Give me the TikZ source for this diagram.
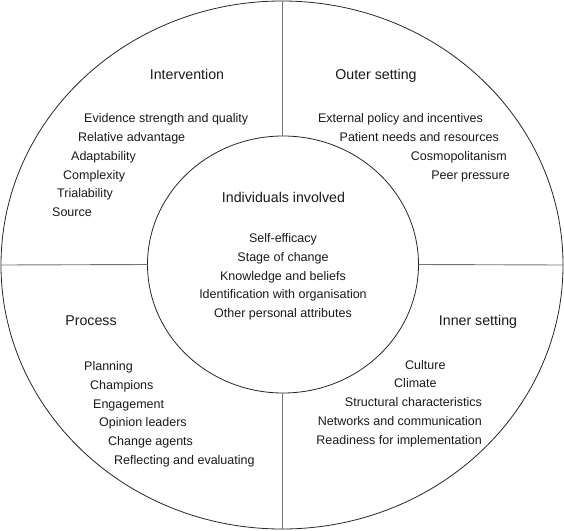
\documentclass[tikz,border=0pt]{standalone}
\usepackage{fontspec}
\setmainfont{Liberation Sans}
\usetikzlibrary{shapes.geometric}
\begin{document}
\begin{tikzpicture}[x=1pt,y=-1pt,
  ring/.style={ellipse,draw=black!85,line width=0.8pt,inner sep=0pt,outer sep=0pt},
  divider/.style={draw=black!55,line width=0.9pt},
  head/.style={inner sep=0pt,font=\fontsize{14.2pt}{16pt}\selectfont,text height=10.2pt,text depth=0pt,text=black!90},
  item/.style={inner sep=0pt,font=\fontsize{12.5pt}{14pt}\selectfont,text height=9pt,text depth=0pt,text=black!90}]
\useasboundingbox (0,0) rectangle (564,530);
\node[ring,minimum width=562pt,minimum height=528pt] (outer) at (282,265) {};
\node[ring,minimum width=271pt,minimum height=257pt] (inner) at (283,264.5) {};
\coordinate (on) at (282,1);
\coordinate (os) at (282,529);
\coordinate (in) at (282,136);
\coordinate (is) at (282,393);
\draw[divider] (on) -- (in);
\draw[divider] (is) -- (os);
\draw[divider] (outer.west) -- (inner.west);
\draw[divider] (inner.east) -- (outer.east);
% Intervention
\node[head] (h1) at (187,74) {Intervention};
\node[item,anchor=west] (a1) at (84,118) {Evidence strength and quality};
\node[item,anchor=west] (a2) at (78,137) {Relative advantage};
\node[item,anchor=west] (a3) at (71,156) {Adaptability};
\node[item,anchor=west] (a4) at (63,175) {Complexity};
\node[item,anchor=west] (a5) at (57,193) {Trialability};
\node[item,anchor=west] (a6) at (52,212) {Source};
% Outer setting
\node[head] (h2) at (376,74) {Outer setting};
\node[item,anchor=east] (b1) at (483,118) {External policy and incentives};
\node[item,anchor=east] (b2) at (499,137) {Patient needs and resources};
\node[item,anchor=east] (b3) at (507,156) {Cosmopolitanism};
\node[item,anchor=east] (b4) at (510,175) {Peer pressure};
% Individuals involved
\node[head] (h3) at (283.5,197) {Individuals involved};
\node[item] (c1) at (283,238) {Self-efficacy};
\node[item] (c2) at (283,257) {Stage of change};
\node[item] (c3) at (283,276) {Knowledge and beliefs};
\node[item] (c4) at (283,294) {Identification with organisation};
\node[item] (c5) at (283,313) {Other personal attributes};
% Process
\node[head] (h4) at (91,320) {Process};
\node[item,anchor=west] (d1) at (84,366) {Planning};
\node[item,anchor=west] (d2) at (90,385) {Champions};
\node[item,anchor=west] (d3) at (93,404) {Engagement};
\node[item,anchor=west] (d4) at (99,422) {Opinion leaders};
\node[item,anchor=west] (d5) at (108,441) {Change agents};
\node[item,anchor=west] (d6) at (114,460) {Reflecting and evaluating};
% Inner setting
\node[head] (h5) at (478,320) {Inner setting};
\node[item,anchor=west] (e1) at (405,365) {Culture};
\node[item,anchor=west] (e2) at (394,383) {Climate};
\node[item,anchor=east] (e3) at (482,402) {Structural characteristics};
\node[item,anchor=east] (e4) at (482,421) {Networks and communication};
\node[item,anchor=east] (e5) at (482,440) {Readiness for implementation};
\end{tikzpicture}
\end{document}
